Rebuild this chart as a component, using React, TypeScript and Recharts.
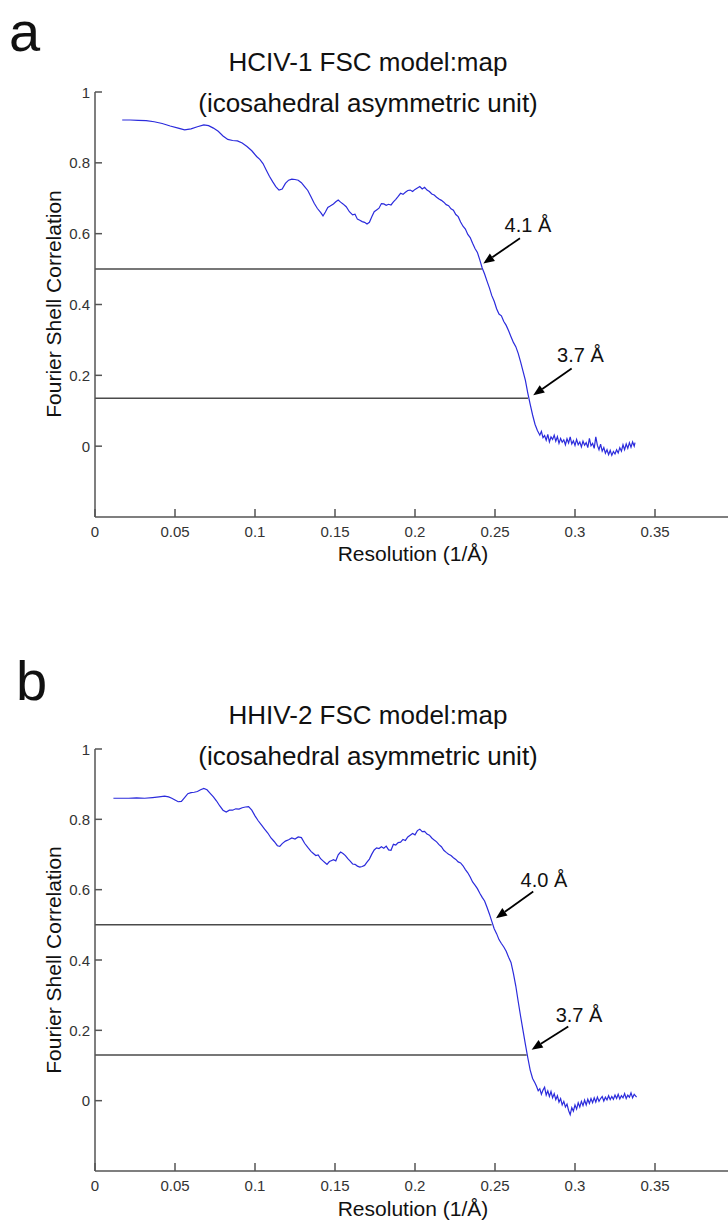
import React from 'react';
import { LineChart, Line, XAxis, YAxis, ReferenceLine, ReferenceDot } from 'recharts';

const FONT = '"Liberation Sans", Arial, Helvetica, sans-serif';
const AXIS = '#555555';
const CURVE = '#2b2bdc';
const GUIDE = '#4a4a4a';

const xTicks = [0, 0.05, 0.1, 0.15, 0.2, 0.25, 0.3, 0.35];
const yTicks = [0, 0.2, 0.4, 0.6, 0.8, 1];

// panel a: HCIV-1
const resA = [
  0.017, 0.022, 0.027, 0.032, 0.037, 0.042, 0.047, 0.052, 0.056, 0.06, 0.064, 0.068, 0.071, 0.074, 0.077,
  0.08, 0.083, 0.086, 0.089, 0.092, 0.095, 0.098, 0.101, 0.103, 0.105, 0.107, 0.109, 0.111, 0.113, 0.115,
  0.117, 0.119, 0.121, 0.123, 0.125, 0.127, 0.129, 0.131, 0.133, 0.135, 0.137, 0.139, 0.141, 0.1425, 0.144,
  0.1455, 0.147, 0.149, 0.1505, 0.152, 0.1535, 0.155, 0.157, 0.159, 0.161, 0.1625, 0.164, 0.1655, 0.167, 0.1685,
  0.17, 0.1715, 0.173, 0.1745, 0.176, 0.1775, 0.179, 0.1805, 0.182, 0.1835, 0.185, 0.1865, 0.188, 0.1895, 0.191,
  0.1925, 0.194, 0.1955, 0.197, 0.1985, 0.2, 0.2015, 0.203, 0.2045, 0.206, 0.2075, 0.209, 0.2105, 0.212, 0.2135,
  0.215, 0.2165, 0.218, 0.2195, 0.221, 0.2225, 0.224, 0.2255, 0.227, 0.2285, 0.23, 0.2315, 0.233, 0.2345, 0.236,
  0.2375, 0.239, 0.2405, 0.242, 0.2435, 0.245, 0.2465, 0.248, 0.2495, 0.251, 0.2525, 0.254, 0.2555, 0.257, 0.2585,
  0.26, 0.2615, 0.263, 0.2645, 0.266, 0.2675, 0.269, 0.2705, 0.272, 0.2735, 0.275, 0.2765,
  0.278, 0.279, 0.28, 0.281, 0.282, 0.283, 0.284, 0.285, 0.286, 0.287, 0.288, 0.289, 0.29, 0.291, 0.292,
  0.293, 0.294, 0.295, 0.296, 0.297, 0.298, 0.299, 0.3, 0.301, 0.302, 0.303, 0.304, 0.305, 0.306, 0.307,
  0.308, 0.309, 0.31, 0.311, 0.312, 0.313, 0.314, 0.315, 0.316, 0.317, 0.318, 0.319, 0.32, 0.321, 0.322,
  0.323, 0.324, 0.325, 0.326, 0.327, 0.328, 0.329, 0.33, 0.331, 0.332, 0.333, 0.334, 0.335, 0.336, 0.337,
  0.3375,
];
const fscA = [
  0.921, 0.921, 0.92, 0.919, 0.916, 0.911, 0.904, 0.898, 0.893, 0.896, 0.902, 0.907, 0.905, 0.898, 0.889,
  0.876, 0.866, 0.863, 0.862, 0.856, 0.846, 0.834, 0.818, 0.81, 0.798, 0.78, 0.762, 0.747, 0.733, 0.723,
  0.726, 0.742, 0.751, 0.754, 0.753, 0.751, 0.744, 0.733, 0.722, 0.704, 0.686, 0.671, 0.66, 0.65, 0.661,
  0.674, 0.678, 0.684, 0.69, 0.695, 0.689, 0.684, 0.676, 0.662, 0.653, 0.655, 0.641, 0.638, 0.634, 0.632,
  0.627, 0.632, 0.648, 0.662, 0.667, 0.672, 0.685, 0.684, 0.68, 0.683, 0.681, 0.69, 0.697, 0.705, 0.714,
  0.711, 0.717, 0.722, 0.723, 0.719, 0.725, 0.729, 0.733, 0.726, 0.731, 0.723, 0.719, 0.712, 0.709, 0.703,
  0.698, 0.694, 0.689, 0.682, 0.679, 0.67, 0.666, 0.654, 0.648, 0.633, 0.621, 0.613, 0.598, 0.589, 0.573,
  0.558, 0.547, 0.526, 0.503, 0.486, 0.466, 0.447, 0.425, 0.409, 0.388, 0.373, 0.368, 0.352, 0.341, 0.326,
  0.309, 0.293, 0.281, 0.262, 0.238, 0.212, 0.186, 0.15, 0.118, 0.088, 0.062, 0.044,
  0.031, 0.042, 0.024, 0.03, 0.017, 0.033, 0.012, 0.026, 0.019, 0.031, 0.014, 0.027, 0.008, 0.022, 0.011,
  0.018, 0.004, 0.021, 0.009, 0.026, 0.006, 0.015, 0.002, 0.019, 0.004, 0.012, -0.002, 0.014, 0.003, 0.01,
  -0.004, 0.022, 0.001, 0.008, -0.006, 0.026, 0.002, -0.01, 0.006, -0.014, -0.004, -0.02, -0.01, -0.024, -0.012,
  -0.026, -0.015, -0.022, -0.01, -0.019, -0.004, -0.014, 0.004, -0.01, 0.006, -0.006, 0.01, -0.003, 0.012, 0.0,
  0.01,
];

// panel b: HHIV-2
const resB = [
  0.0115, 0.016, 0.021, 0.026, 0.031, 0.036, 0.04, 0.0435, 0.046, 0.048, 0.05, 0.052, 0.054, 0.056, 0.058,
  0.06, 0.062, 0.064, 0.066, 0.068, 0.07, 0.072, 0.074, 0.076, 0.078, 0.08, 0.082, 0.084, 0.086, 0.088,
  0.09, 0.092, 0.094, 0.096, 0.098, 0.1, 0.102, 0.104, 0.106, 0.108, 0.11, 0.112, 0.114, 0.1155, 0.117,
  0.119, 0.121, 0.123, 0.125, 0.127, 0.129, 0.131, 0.133, 0.135, 0.1365, 0.138, 0.1395, 0.141, 0.1425, 0.144,
  0.145, 0.1465, 0.148, 0.149, 0.1505, 0.152, 0.1535, 0.155, 0.1565, 0.158, 0.1595, 0.161, 0.1625, 0.164, 0.1655,
  0.167, 0.1685, 0.17, 0.1715, 0.173, 0.1745, 0.176, 0.1775, 0.179, 0.1805, 0.182, 0.1835, 0.185, 0.1865, 0.188,
  0.1895, 0.191, 0.1925, 0.194, 0.1955, 0.197, 0.1985, 0.2, 0.2015, 0.203, 0.2045, 0.206, 0.2075, 0.209, 0.2105,
  0.212, 0.2135, 0.215, 0.2165, 0.218, 0.2195, 0.221, 0.2225, 0.224, 0.2255, 0.227, 0.2285, 0.23, 0.2315, 0.233,
  0.2345, 0.236, 0.2375, 0.239, 0.2405, 0.242, 0.2435, 0.245, 0.2465, 0.248, 0.2495, 0.251, 0.2525, 0.254, 0.2555,
  0.257, 0.2585, 0.26, 0.2615, 0.263, 0.2645, 0.266, 0.2675, 0.269, 0.2705, 0.272, 0.2735, 0.275,
  0.276, 0.277, 0.278, 0.279, 0.28, 0.281, 0.282, 0.283, 0.284, 0.285, 0.286, 0.287, 0.288, 0.289, 0.29,
  0.291, 0.292, 0.293, 0.294, 0.295, 0.296, 0.297, 0.298, 0.299, 0.3, 0.301, 0.302, 0.303, 0.304, 0.305,
  0.306, 0.307, 0.308, 0.309, 0.31, 0.311, 0.312, 0.313, 0.314, 0.315, 0.316, 0.317, 0.318, 0.319, 0.32,
  0.321, 0.322, 0.323, 0.324, 0.325, 0.326, 0.327, 0.328, 0.329, 0.33, 0.331, 0.332, 0.333, 0.334, 0.335,
  0.336, 0.337, 0.3385,
];
const fscB = [
  0.86, 0.86, 0.86, 0.861, 0.86, 0.862, 0.864, 0.866, 0.864, 0.86, 0.855, 0.85, 0.851, 0.862, 0.873,
  0.876, 0.877, 0.879, 0.884, 0.888, 0.884, 0.874, 0.864, 0.852, 0.838, 0.826, 0.821, 0.826, 0.826, 0.83,
  0.829, 0.833, 0.835, 0.836, 0.826, 0.81, 0.796, 0.784, 0.772, 0.761, 0.747, 0.737, 0.725, 0.723, 0.731,
  0.738, 0.742, 0.747, 0.744, 0.75, 0.748, 0.732, 0.72, 0.709, 0.703, 0.697, 0.699, 0.688, 0.682, 0.676,
  0.672, 0.68, 0.683, 0.685, 0.682, 0.699, 0.707, 0.703, 0.697, 0.688, 0.681, 0.673, 0.672, 0.667, 0.664,
  0.666, 0.669, 0.678, 0.687, 0.701, 0.713, 0.719, 0.717, 0.722, 0.718, 0.724, 0.713, 0.712, 0.729, 0.727,
  0.734, 0.735, 0.743, 0.74, 0.75, 0.755, 0.76, 0.756, 0.768, 0.772, 0.765, 0.766, 0.758, 0.755, 0.747,
  0.741, 0.736, 0.728, 0.722, 0.712, 0.706, 0.701, 0.697, 0.691, 0.686, 0.679, 0.676, 0.668, 0.657, 0.648,
  0.636, 0.622, 0.613, 0.603, 0.59, 0.578, 0.568, 0.55, 0.531, 0.51, 0.489, 0.475, 0.458, 0.447, 0.437,
  0.425, 0.408, 0.393, 0.362, 0.326, 0.282, 0.24, 0.2, 0.16, 0.122, 0.087, 0.063, 0.05,
  0.04, 0.028, 0.034, 0.018, 0.03, 0.038, 0.016, 0.028, 0.012, 0.026, 0.008, 0.02, 0.003, 0.014, -0.004,
  0.006, -0.012, -0.002, -0.018, -0.01, -0.028, -0.04, -0.02, -0.03, -0.012, -0.024, -0.006, -0.018, -0.002, -0.014,
  0.002, -0.012, 0.004, -0.008, 0.006, -0.006, 0.008, -0.004, 0.01, -0.002, 0.006, 0.012, -0.001, 0.01, 0.002,
  0.014, 0.003, 0.012, 0.004, 0.016, 0.006, 0.018, 0.005, 0.014, 0.008, 0.02, 0.006, 0.016, 0.01, 0.022,
  0.008, 0.018, 0.01,
];

// FSC thresholds and where they meet the curve
const thresholdsA = [0.5, 0.135];
const crossingsA = [0.2418, 0.2706];
const thresholdsB = [0.5, 0.13];
const crossingsB = [0.2479, 0.2698];

// resolution callouts
const labelsA = ['4.1 Å', '3.7 Å'];
const labelAtA = [[0.2706, 0.624], [0.3034, 0.257]];
const arrowFromA = [[0.2656, 0.587], [0.2979, 0.219]];
const arrowToA = [[0.2427, 0.516], [0.2739, 0.144]];
const labelsB = ['4.0 Å', '3.7 Å'];
const labelAtB = [[0.2806, 0.628], [0.3025, 0.244]];
const arrowFromB = [[0.2739, 0.595], [0.2958, 0.211]];
const arrowToB = [[0.2506, 0.519], [0.2729, 0.145]];

const dataA = resA.map((r, i) => ({ res: r, fsc: fscA[i] }));
const dataB = resB.map((r, i) => ({ res: r, fsc: fscB[i] }));

const XTick = (props: any) => {
  const { x, y, payload } = props;
  return (
    <g>
      <line x1={x} x2={x} y1={y - 5} y2={y - 13} stroke={AXIS} strokeWidth={1.5} />
      <text x={x} y={y + 9} textAnchor="middle" dominantBaseline="central" fontSize={15} fill="#333" fontFamily={FONT}>
        {payload.value}
      </text>
    </g>
  );
};

const YTick = (props: any) => {
  const { x, y, payload } = props;
  return (
    <g>
      <line x1={x + 5} x2={x + 12} y1={y} y2={y} stroke={AXIS} strokeWidth={1.5} />
      <text x={x} y={y} textAnchor="end" dominantBaseline="central" fontSize={15} fill="#333" fontFamily={FONT}>
        {payload.value}
      </text>
    </g>
  );
};

const Arrow = (props: any) => {
  const { x1, y1, x2, y2 } = props;
  const ang = Math.atan2(y2 - y1, x2 - x1);
  const len = 11;
  const half = 4.5;
  const bx = x2 - len * Math.cos(ang);
  const by = y2 - len * Math.sin(ang);
  const px = -Math.sin(ang) * half;
  const py = Math.cos(ang) * half;
  return (
    <g>
      <line x1={x1} y1={y1} x2={bx} y2={by} stroke="#000" strokeWidth={1.8} />
      <polygon points={`${x2},${y2} ${bx + px},${by + py} ${bx - px},${by - py}`} fill="#000" />
    </g>
  );
};

function FscPanel({ data, thresholds, crossings, labels, labelAt, arrowFrom, arrowTo, top, plotH }: any) {
  return (
    <div style={{ position: 'absolute', left: 0, top }}>
      <LineChart width={740} height={92 + plotH + 30} data={data} margin={{ top: 92, right: 5, bottom: 0, left: 0 }}>
        <XAxis
          type="number"
          dataKey="res"
          domain={[0, 0.4]}
          ticks={xTicks}
          interval={0}
          allowDataOverflow
          height={30}
          tickSize={0}
          tickMargin={5}
          tickLine={false}
          tick={XTick}
          axisLine={{ stroke: AXIS, strokeWidth: 1.5 }}
        />
        <YAxis
          type="number"
          domain={[-0.2, 1]}
          ticks={yTicks}
          interval={0}
          allowDataOverflow
          width={95}
          tickSize={0}
          tickMargin={5}
          tickLine={false}
          tick={YTick}
          axisLine={{ stroke: AXIS, strokeWidth: 1.5 }}
        />
        {thresholds.map((t: number, i: number) => (
          <ReferenceLine
            key={'t' + i}
            segment={[{ x: 0, y: t }, { x: crossings[i], y: t }]}
            stroke={GUIDE}
            strokeWidth={1.5}
          />
        ))}
        <Line
          type="linear"
          dataKey="fsc"
          stroke={CURVE}
          strokeWidth={1.2}
          dot={false}
          isAnimationActive={false}
        />
        {labels.map((l: string, i: number) => (
          <ReferenceLine
            key={'a' + i}
            segment={[
              { x: arrowFrom[i][0], y: arrowFrom[i][1] },
              { x: arrowTo[i][0], y: arrowTo[i][1] },
            ]}
            shape={Arrow}
          />
        ))}
        {labels.map((l: string, i: number) => (
          <ReferenceDot
            key={'l' + i}
            x={labelAt[i][0]}
            y={labelAt[i][1]}
            r={1}
            shape={(p: any) => (
              <text x={p.cx} y={p.cy} textAnchor="middle" dominantBaseline="central" fontSize={20} fill="#111" fontFamily={FONT}>
                {l}
              </text>
            )}
          />
        ))}
      </LineChart>
    </div>
  );
}

export default function App() {
  const txt = { fontFamily: FONT, fill: '#111' };
  return (
    <div style={{ position: 'absolute', left: 0, top: 0, width: 728, height: 1221, overflow: 'hidden', background: '#fff' }}>
      <FscPanel
        data={dataA}
        thresholds={thresholdsA}
        crossings={crossingsA}
        labels={labelsA}
        labelAt={labelAtA}
        arrowFrom={arrowFromA}
        arrowTo={arrowToA}
        top={0}
        plotH={425}
      />
      <FscPanel
        data={dataB}
        thresholds={thresholdsB}
        crossings={crossingsB}
        labels={labelsB}
        labelAt={labelAtB}
        arrowFrom={arrowFromB}
        arrowTo={arrowToB}
        top={657}
        plotH={422}
      />
      <svg width={728} height={1221} style={{ position: 'absolute', left: 0, top: 0, pointerEvents: 'none' }}>
        <text x={9} y={51} fontSize={56} {...txt}>a</text>
        <text x={368} y={71} fontSize={26} textAnchor="middle" {...txt}>HCIV-1 FSC model:map</text>
        <text x={368} y={112} fontSize={26} textAnchor="middle" {...txt}>(icosahedral asymmetric unit)</text>
        <text x={53} y={304} fontSize={21} textAnchor="middle" dominantBaseline="central" transform="rotate(-90, 53, 304)" {...txt}>
          Fourier Shell Correlation
        </text>
        <text x={413} y={553} fontSize={21} textAnchor="middle" dominantBaseline="central" {...txt}>Resolution (1/Å)</text>

        <text x={16} y={700} fontSize={56} {...txt}>b</text>
        <text x={368} y={724} fontSize={26} textAnchor="middle" {...txt}>HHIV-2 FSC model:map</text>
        <text x={368} y={765} fontSize={26} textAnchor="middle" {...txt}>(icosahedral asymmetric unit)</text>
        <text x={53} y={960} fontSize={21} textAnchor="middle" dominantBaseline="central" transform="rotate(-90, 53, 960)" {...txt}>
          Fourier Shell Correlation
        </text>
        <text x={413} y={1208} fontSize={21} textAnchor="middle" dominantBaseline="central" {...txt}>Resolution (1/Å)</text>
      </svg>
    </div>
  );
}
